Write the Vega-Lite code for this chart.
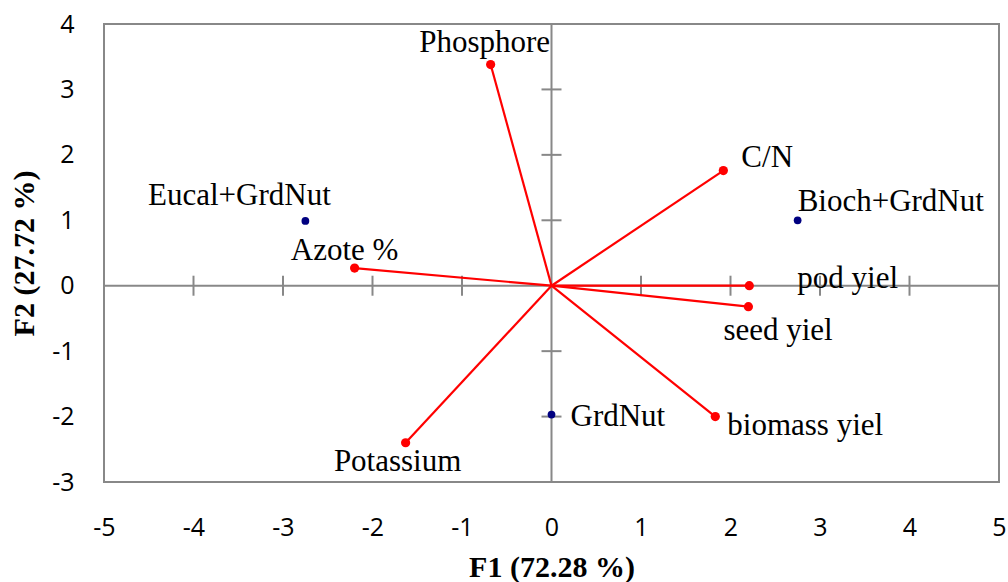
{
  "$schema": "https://vega.github.io/schema/vega-lite/v6.json",
  "width": 895,
  "height": 458,
  "autosize": {"type": "none"},
  "padding": {"left": 104, "top": 24, "right": 9, "bottom": 100},
  "background": "white",
  "config": {
    "view": {"stroke": "#888888", "strokeWidth": 2},
    "axis": {
      "grid": false, "domain": false, "ticks": false,
      "labelFont": "Open Sans", "labelFontSize": 25, "labelColor": "#000000",
      "labelFlush": false, "labelOverlap": false,
      "labelExpr": "'' + datum.value",
      "titleFont": "Liberation Serif", "titleFontSize": 30, "titleFontWeight": "bold", "titleColor": "#000000"
    },
    "text": {"font": "Liberation Serif", "fontSize": 31, "color": "#000000", "baseline": "alphabetic"}
  },
  "datasets": {
    "vars": [
      {"label": "Phosphore", "f1": -0.68, "f2": 3.38},
      {"label": "C/N", "f1": 1.92, "f2": 1.76},
      {"label": "pod yiel", "f1": 2.21, "f2": 0.0},
      {"label": "seed yiel", "f1": 2.2, "f2": -0.32},
      {"label": "biomass yiel", "f1": 1.83, "f2": -2.0},
      {"label": "Potassium", "f1": -1.63, "f2": -2.4},
      {"label": "Azote %", "f1": -2.2, "f2": 0.27}
    ],
    "obs": [
      {"label": "Eucal+GrdNut", "f1": -2.75, "f2": 0.99},
      {"label": "Bioch+GrdNut", "f1": 2.75, "f2": 1.0},
      {"label": "GrdNut", "f1": 0.0, "f2": -1.97}
    ],
    "xticks": [{"v": -5}, {"v": -4}, {"v": -3}, {"v": -2}, {"v": -1}, {"v": 1}, {"v": 2}, {"v": 3}, {"v": 4}, {"v": 5}],
    "yticks": [{"v": -3}, {"v": -2}, {"v": -1}, {"v": 1}, {"v": 2}, {"v": 3}, {"v": 4}]
  },
  "layer": [
    {
      "data": {"values": [{}]},
      "mark": {"type": "rule", "color": "#888888", "strokeWidth": 2},
      "encoding": {"x": {"datum": 0, "type": "quantitative", "scale": {"domain": [-5, 5], "nice": false, "zero": false},
        "axis": {"title": "F1 (72.28 %)", "values": [-5, -4, -3, -2, -1, 0, 1, 2, 3, 4, 5], "labelPadding": 33, "titlePadding": 12}}}
    },
    {
      "data": {"values": [{}]},
      "mark": {"type": "rule", "color": "#888888", "strokeWidth": 2},
      "encoding": {"y": {"datum": 0, "type": "quantitative", "scale": {"domain": [-3, 4], "nice": false, "zero": false},
        "axis": {"title": "F2 (27.72 %)", "values": [-3, -2, -1, 0, 1, 2, 3, 4], "labelPadding": 30, "titlePadding": 12}}}
    },
    {
      "data": {"name": "xticks"},
      "mark": {"type": "tick", "orient": "vertical", "color": "#888888", "size": 20, "thickness": 2, "opacity": 1},
      "encoding": {
        "x": {"field": "v", "type": "quantitative"},
        "y": {"datum": 0, "type": "quantitative"}
      }
    },
    {
      "data": {"name": "yticks"},
      "mark": {"type": "tick", "orient": "horizontal", "color": "#888888", "size": 20, "thickness": 2, "opacity": 1},
      "encoding": {
        "y": {"field": "v", "type": "quantitative"},
        "x": {"datum": 0, "type": "quantitative"}
      }
    },
    {
      "data": {"name": "vars"},
      "mark": {"type": "rule", "color": "#ff0000", "strokeWidth": 2.2},
      "encoding": {
        "x": {"field": "f1", "type": "quantitative"},
        "y": {"field": "f2", "type": "quantitative"},
        "x2": {"datum": 0},
        "y2": {"datum": 0}
      }
    },
    {
      "data": {"name": "vars"},
      "mark": {"type": "circle", "color": "#ff0000", "size": 85, "opacity": 1},
      "encoding": {
        "x": {"field": "f1", "type": "quantitative"},
        "y": {"field": "f2", "type": "quantitative"}
      }
    },
    {
      "data": {"name": "obs"},
      "mark": {"type": "circle", "color": "#000080", "size": 60, "opacity": 1},
      "encoding": {
        "x": {"field": "f1", "type": "quantitative"},
        "y": {"field": "f2", "type": "quantitative"}
      }
    },
    {
      "data": {"name": "vars"},
      "transform": [{"filter": "datum.label === 'Phosphore'"}],
      "mark": {"type": "text", "align": "center", "dx": -6, "dy": -13},
      "encoding": {
        "x": {"field": "f1", "type": "quantitative"},
        "y": {"field": "f2", "type": "quantitative"},
        "text": {"field": "label"}
      }
    },
    {
      "data": {"name": "vars"},
      "transform": [{"filter": "datum.label === 'C/N'"}],
      "mark": {"type": "text", "align": "left", "dx": 18, "dy": -4},
      "encoding": {
        "x": {"field": "f1", "type": "quantitative"},
        "y": {"field": "f2", "type": "quantitative"},
        "text": {"field": "label"}
      }
    },
    {
      "data": {"name": "vars"},
      "transform": [{"filter": "datum.label === 'pod yiel'"}],
      "mark": {"type": "text", "align": "left", "dx": 48, "dy": 2},
      "encoding": {
        "x": {"field": "f1", "type": "quantitative"},
        "y": {"field": "f2", "type": "quantitative"},
        "text": {"field": "label"}
      }
    },
    {
      "data": {"name": "vars"},
      "transform": [{"filter": "datum.label === 'seed yiel'"}],
      "mark": {"type": "text", "align": "left", "dx": -25, "dy": 33},
      "encoding": {
        "x": {"field": "f1", "type": "quantitative"},
        "y": {"field": "f2", "type": "quantitative"},
        "text": {"field": "label"}
      }
    },
    {
      "data": {"name": "vars"},
      "transform": [{"filter": "datum.label === 'biomass yiel'"}],
      "mark": {"type": "text", "align": "left", "dx": 12, "dy": 18},
      "encoding": {
        "x": {"field": "f1", "type": "quantitative"},
        "y": {"field": "f2", "type": "quantitative"},
        "text": {"field": "label"}
      }
    },
    {
      "data": {"name": "vars"},
      "transform": [{"filter": "datum.label === 'Potassium'"}],
      "mark": {"type": "text", "align": "center", "dx": -8, "dy": 28},
      "encoding": {
        "x": {"field": "f1", "type": "quantitative"},
        "y": {"field": "f2", "type": "quantitative"},
        "text": {"field": "label"}
      }
    },
    {
      "data": {"name": "vars"},
      "transform": [{"filter": "datum.label === 'Azote %'"}],
      "mark": {"type": "text", "align": "center", "dx": -10, "dy": -8},
      "encoding": {
        "x": {"field": "f1", "type": "quantitative"},
        "y": {"field": "f2", "type": "quantitative"},
        "text": {"field": "label"}
      }
    },
    {
      "data": {"name": "obs"},
      "transform": [{"filter": "datum.label === 'Eucal+GrdNut'"}],
      "mark": {"type": "text", "align": "center", "dx": -66, "dy": -16},
      "encoding": {
        "x": {"field": "f1", "type": "quantitative"},
        "y": {"field": "f2", "type": "quantitative"},
        "text": {"field": "label"}
      }
    },
    {
      "data": {"name": "obs"},
      "transform": [{"filter": "datum.label === 'Bioch+GrdNut'"}],
      "mark": {"type": "text", "align": "left", "dx": 0, "dy": -9},
      "encoding": {
        "x": {"field": "f1", "type": "quantitative"},
        "y": {"field": "f2", "type": "quantitative"},
        "text": {"field": "label"}
      }
    },
    {
      "data": {"name": "obs"},
      "transform": [{"filter": "datum.label === 'GrdNut'"}],
      "mark": {"type": "text", "align": "left", "dx": 19, "dy": 11},
      "encoding": {
        "x": {"field": "f1", "type": "quantitative"},
        "y": {"field": "f2", "type": "quantitative"},
        "text": {"field": "label"}
      }
    }
  ]
}
